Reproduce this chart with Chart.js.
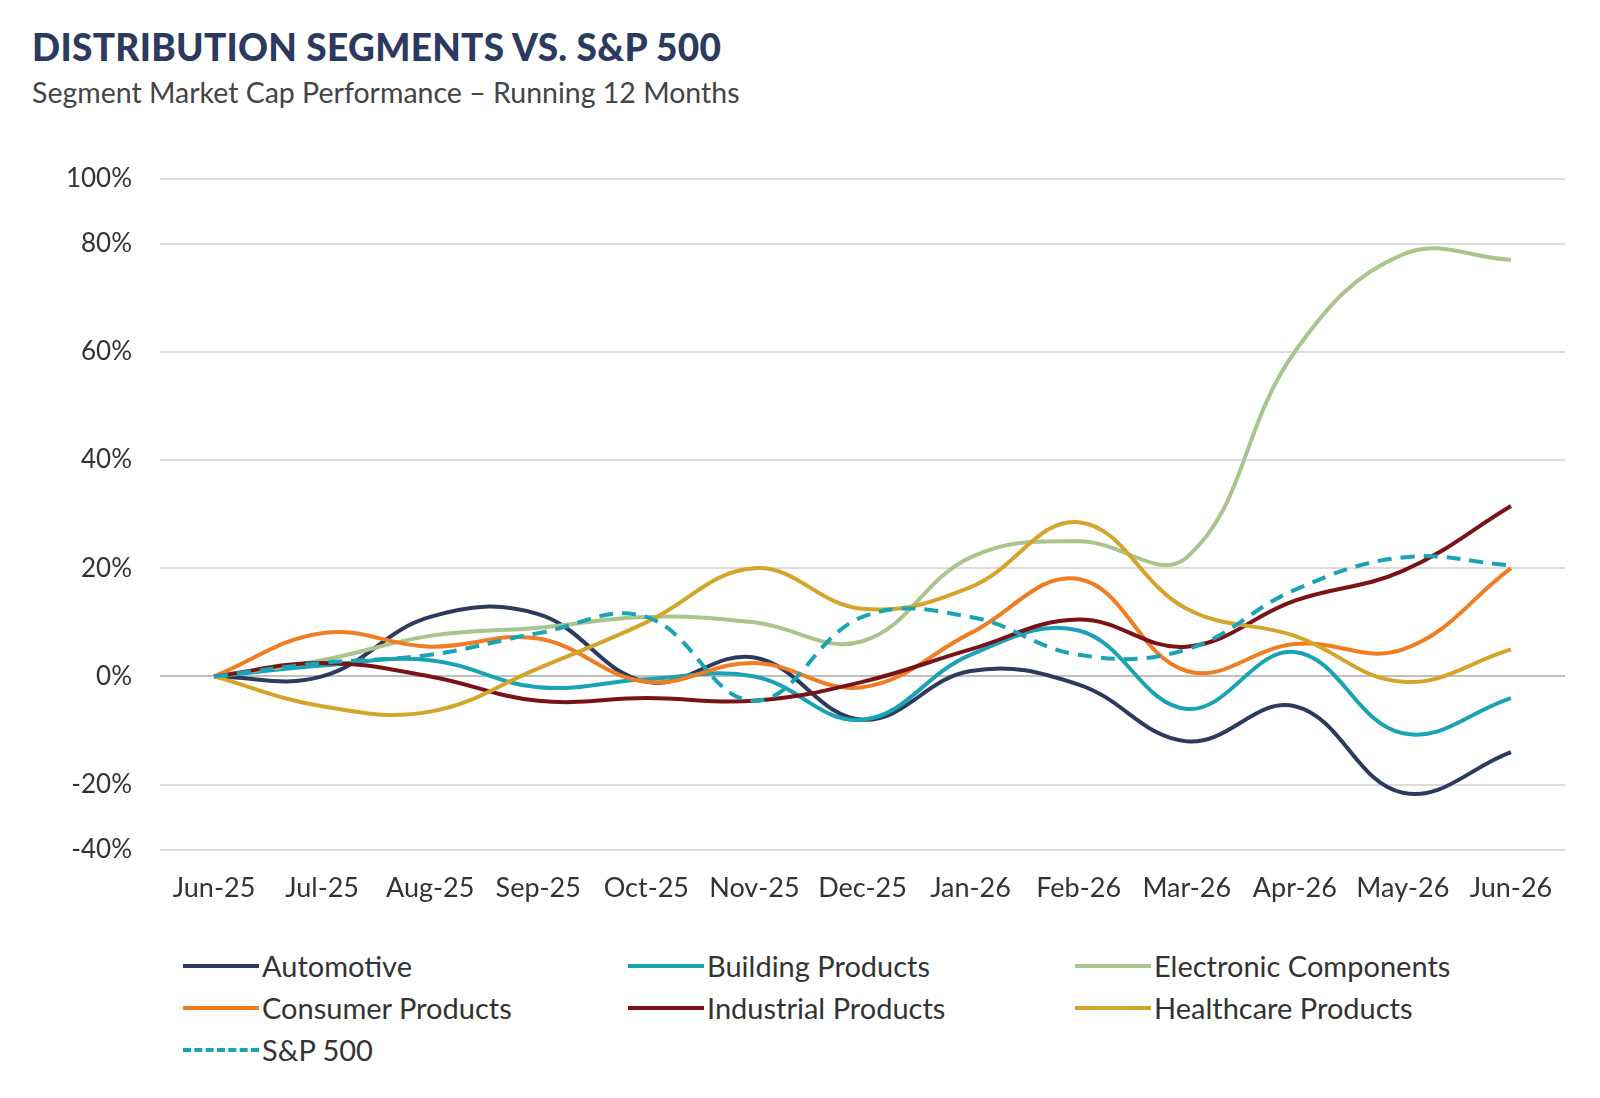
<!DOCTYPE html>
<html><head><meta charset="utf-8">
<script src="https://cdn.jsdelivr.net/npm/chart.js@4"></script>
<style>
body{margin:0;background:#fff;font-family:Lato,"Open Sans",sans-serif;width:1600px;height:1098px;position:relative;overflow:hidden}
h1{position:absolute;left:32px;top:24px;margin:0;font-size:37px;font-weight:900;color:#2b3a5e;letter-spacing:0.3px}
.sub{position:absolute;left:32px;top:75px;font-size:28.5px;color:#444}
#wrap{position:absolute;left:0;top:135px;width:1591px;height:783px}
.legend{position:absolute;left:183px;top:950px;display:grid;grid-template-columns:445px 447px 420px;row-gap:11px;font-size:29px;color:#333}
.legend div{display:flex;align-items:center;height:31px}
.legend span{display:inline-block;width:76px;height:0;border-top:4px solid;margin-right:3px}
</style></head><body>
<h1>DISTRIBUTION SEGMENTS VS. S&amp;P 500</h1>
<div class="sub">Segment Market Cap Performance – Running 12 Months</div>
<div id="wrap"><canvas id="c"></canvas></div>
<div class="legend" id="legend"></div>
<script>
const months = ['Jun-25','Jul-25','Aug-25','Sep-25','Oct-25','Nov-25','Dec-25','Jan-26','Feb-26','Mar-26','Apr-26','May-26','Jun-26'];
const automotive = [0, 0, 11, 11.5, -1, 3.5, -8, 1, -1.5, -12, -5.5, -21.5, -14];
const building = [0, 2, 3, -2, -0.5, 0, -8, 4, 8.5, -6, 4.5, -10.5, -4];
const electronic = [0, 3, 7.5, 9, 11, 10, 6.5, 22, 25, 22, 60, 78, 77];
const consumer = [0, 8, 5.5, 7, -1, 2.5, -2, 8, 18, 1, 6, 5, 20];
const industrial = [0, 2.5, 0, -4.5, -4, -4.5, -1, 5, 10.5, 5.5, 14, 19.5, 31.5];
const healthcare = [0, -5.5, -6.5, 1.5, 10, 20, 12.5, 16.5, 28.5, 12.5, 7.5, -1, 5];
const sp500 = [0, 2.5, 4, 8, 11, -4.5, 11, 11, 4, 5, 16, 22, 20.5];
const yTicks = [-32, -20, 0, 20, 40, 60, 80, 92];
const yLabels = {'-32':'-40%','92':'100%'};

const series = [
  ['Automotive', automotive, '#2b3a5e', false],
  ['Building Products', building, '#1aa3b5', false],
  ['Electronic Components', electronic, '#a9c48c', false],
  ['Consumer Products', consumer, '#f07d22', false],
  ['Industrial Products', industrial, '#7a1318', false],
  ['Healthcare Products', healthcare, '#d4a52a', false],
  ['S&P 500', sp500, '#1aa3b5', true]
];
const lg = document.getElementById('legend');
series.forEach(s => {
  const d = document.createElement('div');
  d.innerHTML = '<span style="border-top-color:' + s[2] + ';border-top-style:' + (s[3] ? 'dashed' : 'solid') + '"></span>' + s[0].replace('&','&amp;');
  lg.appendChild(d);
});

new Chart(document.getElementById('c'), {
  type: 'line',
  data: {
    labels: months,
    datasets: series.map(s => ({
      label: s[0], data: s[1], borderColor: s[2], borderWidth: 4,
      borderDash: s[3] ? [14, 9] : [], pointRadius: 0, tension: 0.4, fill: false
    })).reverse()
  },
  options: {
    responsive: true, maintainAspectRatio: false, animation: false,
    layout: {padding: {top: 12, right: 26}},
    plugins: {legend: {display: false}, tooltip: {enabled: false}},
    scales: {
      x: {
        offset: true,
        grid: {display: false},
        border: {display: false},
        ticks: {color: '#333', font: {family: 'Lato', size: 27}, padding: 14, maxRotation: 0}
      },
      y: {
        min: -32, max: 92,
        afterBuildTicks: ax => { ax.ticks = yTicks.map(v => ({value: v})); },
        afterFit: ax => { ax.width = 160; },
        grid: {color: ctx => ctx.tick && ctx.tick.value === 0 ? '#bfbfbf' : '#dcdcdc', lineWidth: 2, drawTicks: false},
        border: {display: false},
        ticks: {
          color: '#333', font: {family: 'Lato', size: 26}, padding: 28,
          callback: v => yLabels[String(v)] || (v + '%')
        }
      }
    }
  }
});
</script>
</body></html>
